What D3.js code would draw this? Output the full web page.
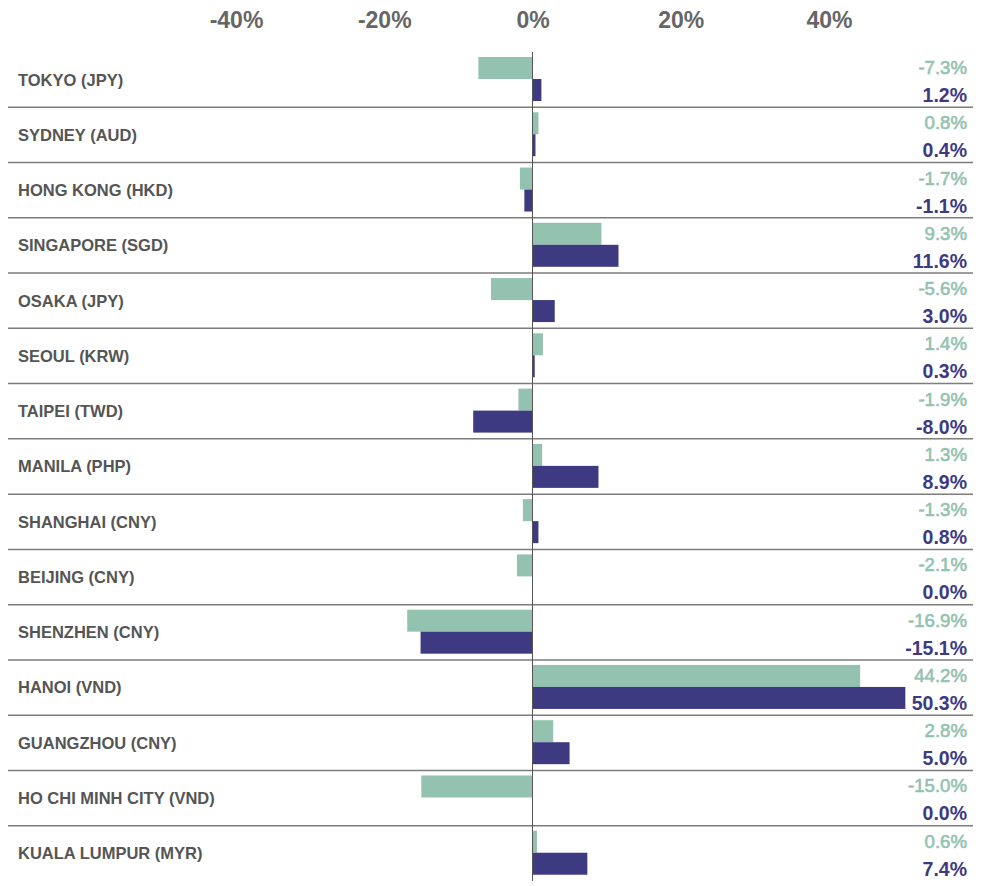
<!DOCTYPE html>
<html>
<head>
<meta charset="utf-8">
<script src="https://cdn.jsdelivr.net/npm/d3@7"></script>
<style>
  body { margin: 0; background: #fff; }
  svg { font-family: "Liberation Sans", Arial, Helvetica, sans-serif; }
</style>
</head>
<body>
<svg id="chart" width="982" height="886"></svg>
<script>
// chart data
var cities = ["TOKYO (JPY)", "SYDNEY (AUD)", "HONG KONG (HKD)", "SINGAPORE (SGD)", "OSAKA (JPY)",
              "SEOUL (KRW)", "TAIPEI (TWD)", "MANILA (PHP)", "SHANGHAI (CNY)", "BEIJING (CNY)",
              "SHENZHEN (CNY)", "HANOI (VND)", "GUANGZHOU (CNY)", "HO CHI MINH CITY (VND)", "KUALA LUMPUR (MYR)"];
var seriesA = [-7.3, 0.8, -1.7, 9.3, -5.6, 1.4, -1.9, 1.3, -1.3, -2.1, -16.9, 44.2, 2.8, -15.0, 0.6];
var seriesB = [1.2, 0.4, -1.1, 11.6, 3.0, 0.3, -8.0, 8.9, 0.8, 0.0, -15.1, 50.3, 5.0, 0.0, 7.4];
var tickValues = [-40, -20, 0, 20, 40];

var svg = d3.select("#chart");

var green = "#93c2b1";
var purple = "#3d3a82";
var top0 = 52, bottom0 = 881; // rows area
var barH = 22;

var x = d3.scaleLinear().domain([-40, 40]).range([236, 829]);
var y = d3.scaleBand().domain(cities).range([top0, bottom0]);

var rows = cities.map(function(c, i) {
    return { name: c, a: seriesA[i], b: seriesB[i] };
});

// top axis labels
var axis = d3.axisTop(x).tickValues(tickValues).tickSize(0).tickFormat(function(d) { return d + "%"; });
var ax = svg.append("g").attr("transform", "translate(0,31)").call(axis);
ax.select(".domain").remove();
ax.selectAll("text")
    .attr("fill", "#666")
    .style("font-size", "23px")
    .style("font-weight", "bold")
    .attr("dy", 0);

// separators between rows
svg.append("g").selectAll("line")
    .data(cities.slice(1))
    .enter()
    .append("line")
    .attr("x1", 8)
    .attr("x2", 973)
    .attr("y1", function(d) { return y(d); })
    .attr("y2", function(d) { return y(d); })
    .style("stroke", "#7d7d7d")
    .style("stroke-width", 1.5);

var g = svg.append("g").selectAll("g.row")
    .data(rows)
    .enter()
    .append("g")
    .attr("class", "row")
    .attr("transform", function(d) { return "translate(0," + y(d.name) + ")"; });

g.append("rect")
    .attr("x", function(d) { return x(Math.min(0, d.a)); })
    .attr("y", 5)
    .attr("width", function(d) { return Math.abs(x(d.a) - x(0)); })
    .attr("height", barH)
    .style("fill", green);

g.append("rect")
    .attr("x", function(d) { return x(Math.min(0, d.b)); })
    .attr("y", 5 + barH)
    .attr("width", function(d) { return Math.abs(x(d.b) - x(0)); })
    .attr("height", barH)
    .style("fill", purple);

// city names
g.append("text")
    .attr("x", 18)
    .attr("y", y.bandwidth() / 2)
    .attr("dy", "0.36em")
    .style("font-size", "16.5px")
    .style("font-weight", "bold")
    .style("fill", "#555")
    .text(function(d) { return d.name; });

// value labels
g.append("text")
    .attr("x", 967)
    .attr("y", 22)
    .attr("text-anchor", "end")
    .style("font-size", "18.6px")
    .style("fill", green)
    .style("stroke", green)
    .style("stroke-width", 0.6)
    .text(function(d) { return d.a.toFixed(1) + "%"; });

g.append("text")
    .attr("x", 967)
    .attr("y", 50)
    .attr("text-anchor", "end")
    .style("font-size", "19.5px")
    .style("font-weight", "bold")
    .style("fill", purple)
    .text(function(d) { return d.b.toFixed(1) + "%"; });

// zero line
svg.append("line")
    .attr("x1", x(0)).attr("x2", x(0))
    .attr("y1", top0).attr("y2", bottom0)
    .style("stroke", "#555")
    .style("stroke-width", 1);
</script>
</body>
</html>
